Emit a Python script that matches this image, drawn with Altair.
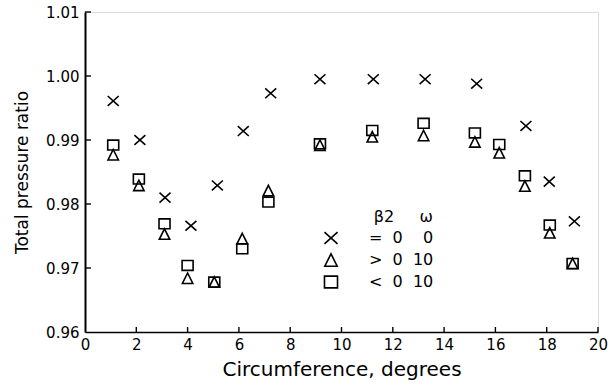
import altair as alt
import pandas as pd

NB = "\u00a0"

# Series labels (legend text: beta2 relation, beta2, omega)
series_names = [
    "=" + NB * 2 + "0" + NB * 4 + "0",
    ">" + NB * 2 + "0" + NB * 2 + "10",
    "<" + NB * 2 + "0" + NB * 2 + "10",
]

x_cross = [1.1, 2.14, 3.12, 4.13, 5.16, 6.17, 7.24, 9.16, 11.24, 13.26, 15.27, 17.19, 18.1, 19.08]
y_cross = [0.9961, 0.9900, 0.9810, 0.9766, 0.9829, 0.9914, 0.9973, 0.9995, 0.9995, 0.9995, 0.9988, 0.9922, 0.9835, 0.9773]

x_tri = [1.1, 2.1, 3.1, 4.0, 5.04, 6.13, 7.15, 9.16, 11.2, 13.2, 15.2, 16.15, 17.15, 18.12, 19.01]
y_tri = [0.9877, 0.9829, 0.9753, 0.9684, 0.9678, 0.9746, 0.9821, 0.9892, 0.9905, 0.9907, 0.9897, 0.9880, 0.9828, 0.9755, 0.9707]

x_sq = [1.1, 2.1, 3.1, 4.0, 5.04, 6.13, 7.15, 9.16, 11.2, 13.2, 15.2, 16.15, 17.15, 18.12, 19.01]
y_sq = [0.9892, 0.9839, 0.9769, 0.9704, 0.9678, 0.9730, 0.9803, 0.9894, 0.9915, 0.9926, 0.9911, 0.9893, 0.9844, 0.9767, 0.9707]

x_ticks = [0, 2, 4, 6, 8, 10, 12, 14, 16, 18, 20]
y_ticks = [0.96, 0.97, 0.98, 0.99, 1.00, 1.01]

rows = []
for xs, ys, name in [(x_cross, y_cross, series_names[0]),
                     (x_tri, y_tri, series_names[1]),
                     (x_sq, y_sq, series_names[2])]:
    for a, b in zip(xs, ys):
        rows.append({"x": a, "y": b, "series": name})
df = pd.DataFrame(rows)

shape_paths = [
    "M-1,-0.9L1,0.9M1,-0.9L-1,0.9",
    "M0,-0.95L0.95,0.95L-0.95,0.95Z",
    "M-1,-0.9L1,-0.9L1,0.9L-1,0.9Z",
]

W, H = 513, 320
FONT = "DejaVu Sans"

xscale = alt.Scale(domain=[0, 20], nice=False, zero=False)
yscale = alt.Scale(domain=[0.96, 1.01], nice=False, zero=False)

points = alt.Chart(df).mark_point(filled=False, color="black", strokeWidth=1.6, size=121, opacity=1).encode(
    x=alt.X("x:Q", scale=xscale,
            axis=alt.Axis(title="Circumference, degrees", values=x_ticks, tickSize=0, grid=False,
                          labelFontSize=15, labelPadding=5, titleFontSize=20, titlePadding=7,
                          titleFontWeight="normal", domainColor="black", domainWidth=1.6,
                          labelColor="black", titleColor="black", labelFlush=False)),
    y=alt.Y("y:Q", scale=yscale,
            axis=alt.Axis(title="Total pressure ratio", values=y_ticks, format=".2f", tickSize=0,
                          grid=False, labelFontSize=15, labelPadding=6, titleFontSize=17,
                          titlePadding=14, titleFontWeight="normal", domainColor="black",
                          domainWidth=2, labelColor="black", titleColor="black", labelFlush=False)),
    shape=alt.Shape("series:N", scale=alt.Scale(domain=series_names, range=shape_paths),
                    legend=alt.Legend(title="\u03b22" + NB * 5 + "\u03c9", orient="none",
                                      legendX=238, legendY=197, padding=0,
                                      titleAnchor="end", titleFontSize=16, titleFontWeight="normal",
                                      titleColor="black", titlePadding=5,
                                      labelFontSize=16, labelColor="black", labelOffset=30,
                                      symbolSize=170, symbolStrokeColor="black",
                                      symbolStrokeWidth=1.6, rowPadding=2)),
)

xt = pd.DataFrame({"t": x_ticks[1:]})
yt = pd.DataFrame({"t": y_ticks[1:]})

xtick_rules = alt.Chart(xt).mark_rule(color="black", strokeWidth=1.4).encode(
    x=alt.X("t:Q", scale=xscale), y=alt.value(H), y2=alt.value(H - 5))
ytick_rules = alt.Chart(yt).mark_rule(color="black", strokeWidth=1.4).encode(
    y=alt.Y("t:Q", scale=yscale), x=alt.value(0), x2=alt.value(6))

chart = alt.layer(xtick_rules, ytick_rules, points).properties(
    width=W, height=H,
    autosize=alt.AutoSizeParams(type="none"),
    padding={"left": 85, "top": 12, "right": 13, "bottom": 54},
    background="white",
).configure_view(stroke=None).configure(font=FONT)

chart.save("out.html", embed_options={"renderer": "svg", "actions": False})
